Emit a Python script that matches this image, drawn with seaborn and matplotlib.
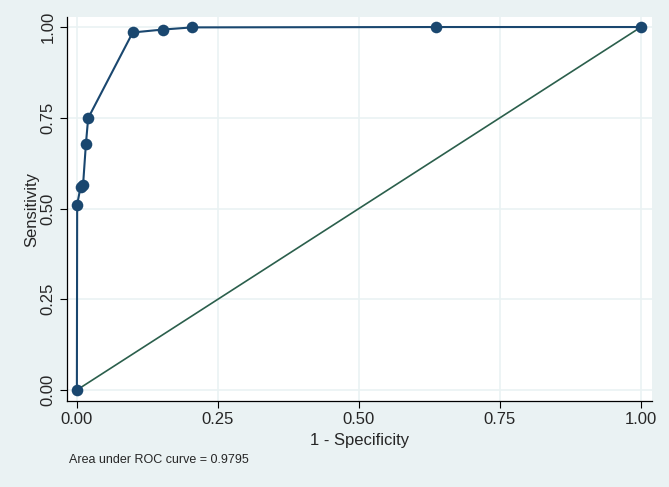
import matplotlib
matplotlib.use("Agg")
import matplotlib.pyplot as plt
import pandas as pd
import seaborn as sns

# roc points
fpr = [0.0, 0.0005, 0.0065, 0.011, 0.016, 0.020, 0.099, 0.152, 0.2045, 0.636, 1.0]
tpr = [0.0, 0.511, 0.559, 0.566, 0.678, 0.749, 0.985, 0.993, 0.999, 1.0, 1.0]
ref_x = [0.0, 1.0]
ref_y = [0.0, 1.0]
ticks = [0.0, 0.25, 0.5, 0.75, 1.0]
tick_labels = ["0.00", "0.25", "0.50", "0.75", "1.00"]
auc_text = "Area under ROC curve = 0.9795"

bg = "#eaf2f3"
navy = "#1a476f"
green = "#2b5f4c"

sns.set_style("white")
plt.rcParams["font.family"] = ["Liberation Sans", "DejaVu Sans"]

roc = pd.DataFrame({"fpr": fpr, "tpr": tpr})
ref = pd.DataFrame({"x": ref_x, "y": ref_y})

fig = plt.figure(figsize=(6.69, 4.87), dpi=100, facecolor=bg)
ax = fig.add_axes([0.1, 0.1766, 0.8746, 0.7884])
ax.set_facecolor("white")

for t in ticks:
    ax.axhline(t, color=bg, lw=1.2, zorder=0)
    ax.axvline(t, color=bg, lw=1.2, zorder=0)

sns.lineplot(data=ref, x="x", y="y", color=green, lw=1.2, ax=ax, zorder=2)
sns.lineplot(data=roc, x="fpr", y="tpr", color=navy, lw=1.5, sort=False,
             estimator=None, ax=ax, zorder=3)
sns.scatterplot(data=roc, x="fpr", y="tpr", color=navy, s=70, edgecolor=navy,
                linewidth=0, ax=ax, zorder=4)

ax.set_xlim(-0.0177, 1.0195)
ax.set_ylim(-0.0303, 1.0275)
ax.set_xticks(ticks)
ax.set_xticklabels(tick_labels, fontsize=12)
ax.set_yticks(ticks)
ax.set_yticklabels(tick_labels, fontsize=12, rotation=90, va="center")
ax.tick_params(axis="both", direction="out", length=5, width=0.8, color="black",
               left=True, bottom=True, pad=3)

for s in ["top", "right"]:
    ax.spines[s].set_visible(False)
for s in ["left", "bottom"]:
    ax.spines[s].set_color("black")
    ax.spines[s].set_linewidth(0.9)

ax.set_xlabel("1 - Specificity", fontsize=12, labelpad=4)
ax.set_ylabel("Sensitivity", fontsize=12, labelpad=1)

fig.text(69 / 669, 1 - 460 / 487, auc_text, fontsize=9, va="center", ha="left")

fig.savefig("out.png", dpi=100, facecolor=bg)
